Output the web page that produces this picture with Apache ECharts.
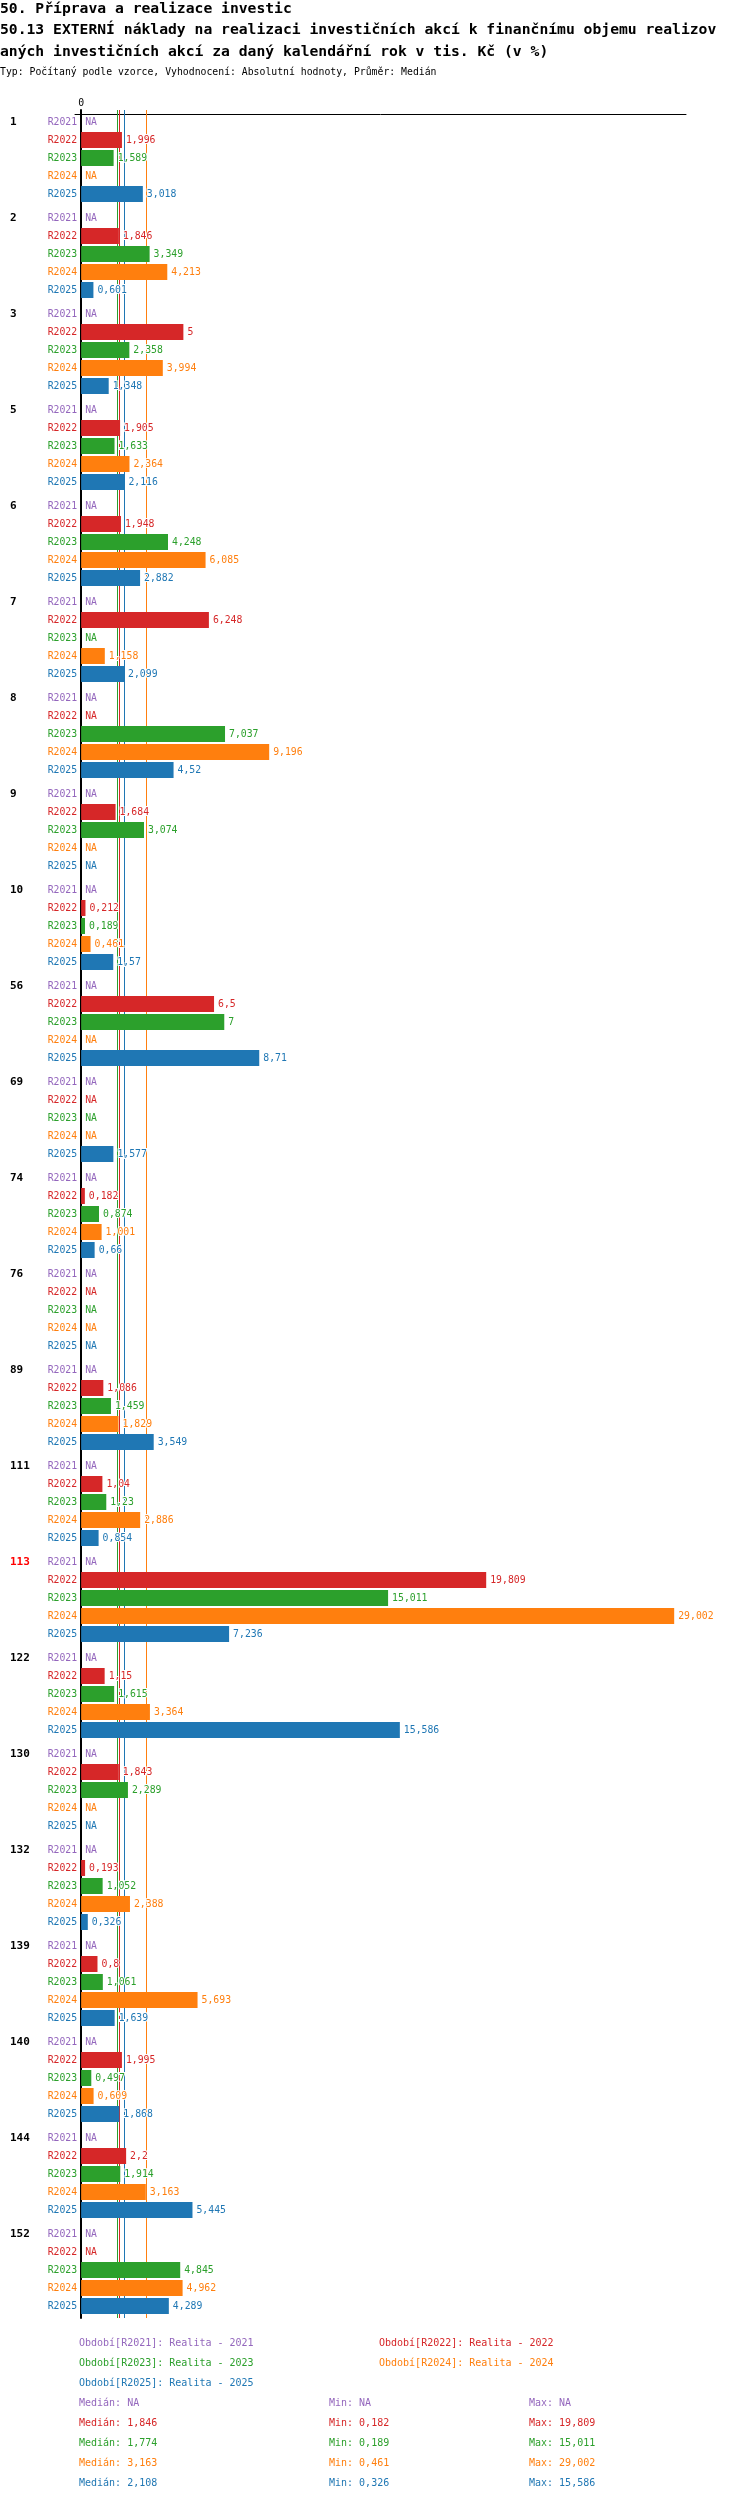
<!DOCTYPE html>
<html>
<head>
<meta charset="utf-8">
<script src="https://cdn.jsdelivr.net/npm/echarts@6/dist/echarts.min.js"></script>
<style>html,body{margin:0;padding:0;background:#fff}#c{width:750px;height:2502px}</style>
</head>
<body>
<div id="c"></div>
<script>
const TITLE_LINES = [
  '50. Příprava a realizace investic',
  '50.13 EXTERNÍ náklady na realizaci investičních akcí k finančnímu objemu realizov',
  'aných investičních akcí za daný kalendářní rok v tis. Kč (v %)'
];
const SUBTITLE = 'Typ: Počítaný podle vzorce, Vyhodnocení: Absolutní hodnoty, Průměr: Medián';
const GROUPS = ['1','2','3','5','6','7','8','9','10','56','69','74','76','89','111','113','122','130','132','139','140','144','152'];
const HIGHLIGHT_GROUP = '113';
const PERIODS = ['R2021','R2022','R2023','R2024','R2025'];
const PERIOD_NAMES = ['Realita - 2021','Realita - 2022','Realita - 2023','Realita - 2024','Realita - 2025'];
const R2021 = [null,null,null,null,null,null,null,null,null,null,null,null,null,null,null,null,null,null,null,null,null,null,null];
const R2022 = [1.996,1.846,5,1.905,1.948,6.248,null,1.684,0.212,6.5,null,0.182,null,1.086,1.04,19.809,1.15,1.843,0.193,0.8,1.995,2.2,null];
const R2023 = [1.589,3.349,2.358,1.633,4.248,null,7.037,3.074,0.189,7,null,0.874,null,1.459,1.23,15.011,1.615,2.289,1.052,1.061,0.497,1.914,4.845];
const R2024 = [null,4.213,3.994,2.364,6.085,1.158,9.196,null,0.461,null,null,1.001,null,1.829,2.886,29.002,3.364,null,2.388,5.693,0.609,3.163,4.962];
const R2025 = [3.018,0.601,1.348,2.116,2.882,2.099,4.52,null,1.57,8.71,1.577,0.66,null,3.549,0.854,7.236,15.586,null,0.326,1.639,1.868,5.445,4.289];
const MEDIANS = [null,1.846,1.774,3.163,2.108];
const MINS = [null,0.182,0.189,0.461,0.326];
const MAXS = [null,19.809,15.011,29.002,15.586];
const AXIS_MIN = -0.3;
const AXIS_MAX = 29.58;
const X_TICKS = [0];

const SERIES_DATA = [R2021,R2022,R2023,R2024,R2025];
const COLORS = ['#9467bd','#d62728','#2ca02c','#ff7f0e','#1f77b4'];
const FONT = 'DejaVu Sans Mono';

function fmt(v){ return v == null ? 'NA' : String(v).replace('.', ','); }

const series = [];
PERIODS.forEach((p, i) => {
  const data = SERIES_DATA[i];
  series.push({
    type: 'bar', name: p + '_lbl', stack: p, barWidth: 16, barGap: '12.5%',
    data: data.map(() => 0), silent: true,
    itemStyle: { color: COLORS[i] },
    label: { show: true, position: 'left', distance: 4, formatter: () => p,
      color: COLORS[i], fontFamily: FONT, fontSize: 9.8 }
  });
  const s = {
    type: 'bar', name: p, stack: p, barWidth: 16, barGap: '12.5%',
    data: data.map(v => v == null ? 0 : v),
    itemStyle: { color: COLORS[i] },
    label: { show: true, position: 'right', distance: 4,
      formatter: (prm) => fmt(data[prm.dataIndex]),
      color: COLORS[i], fontFamily: FONT, fontSize: 9.8,
      textBorderColor: '#fff', textBorderWidth: 2 },
    emphasis: { disabled: true }
  };
  if (MEDIANS[i] != null) {
    s.markLine = {
      silent: true, symbol: ['none','none'], z: 1,
      label: { show: false },
      lineStyle: { color: COLORS[i], width: 1, type: 'solid', opacity: 1 },
      emphasis: { disabled: true },
      data: [{ xAxis: MEDIANS[i] }]
    };
  }
  series.push(s);
});

const graphics = [];
const LEG_X = [79, 379], LEG_Y0 = 2344, STEP = 20;
PERIODS.forEach((p, i) => {
  graphics.push({ type: 'text', left: LEG_X[i % 2], top: LEG_Y0 + Math.floor(i / 2) * STEP - 6,
    style: { text: 'Období[' + p + ']: ' + PERIOD_NAMES[i], fill: COLORS[i], font: '10px "' + FONT + '"' } });
});
const ST_X = [79, 329, 529], ST_Y0 = 2404;
PERIODS.forEach((p, i) => {
  const y = ST_Y0 + i * STEP - 6;
  graphics.push({ type: 'text', left: ST_X[0], top: y, style: { text: 'Medián: ' + fmt(MEDIANS[i]), fill: COLORS[i], font: '10px "' + FONT + '"' } });
  graphics.push({ type: 'text', left: ST_X[1], top: y, style: { text: 'Min: ' + fmt(MINS[i]), fill: COLORS[i], font: '10px "' + FONT + '"' } });
  graphics.push({ type: 'text', left: ST_X[2], top: y, style: { text: 'Max: ' + fmt(MAXS[i]), fill: COLORS[i], font: '10px "' + FONT + '"' } });
});

const chart = echarts.init(document.getElementById('c'), null, { renderer: 'canvas' });
chart.setOption({
  animation: false,
  backgroundColor: '#fff',
  title: [
    { text: TITLE_LINES.join('\n'), left: 0, top: -2, padding: 0,
      textStyle: { fontFamily: FONT, fontSize: 14.7, fontWeight: 'bold', color: '#000', lineHeight: 21.5 } },
    { text: SUBTITLE, left: 0, top: 66, padding: 0,
      textStyle: { fontFamily: FONT, fontSize: 9.8, fontWeight: 'normal', color: '#000', lineHeight: 12 } }
  ],
  grid: { left: 75, top: 110, width: 611, height: 2208, containLabel: false },
  xAxis: {
    type: 'value', position: 'top', offset: -4, min: AXIS_MIN, max: AXIS_MAX,
    axisLine: { show: true, lineStyle: { color: '#000', width: 1 } },
    axisTick: { show: false },
    splitLine: { show: false },
    axisLabel: { customValues: X_TICKS, formatter: v => fmt(v), color: '#000', fontFamily: FONT, fontSize: 9.8, margin: 6 }
  },
  yAxis: {
    type: 'category', data: GROUPS, inverse: true,
    axisLine: { show: true, onZero: true, lineStyle: { color: '#000', width: 2 } },
    axisTick: { show: false },
    splitLine: { show: false },
    axisLabel: { margin: 65, align: 'left', verticalAlign: 'bottom', lineHeight: 72,
      fontFamily: FONT, fontSize: 11, fontWeight: 'bold',
      color: v => v === HIGHLIGHT_GROUP ? '#ff0000' : '#000', interval: 0 }
  },
  series: series,
  graphic: graphics
});
</script>
</body>
</html>
